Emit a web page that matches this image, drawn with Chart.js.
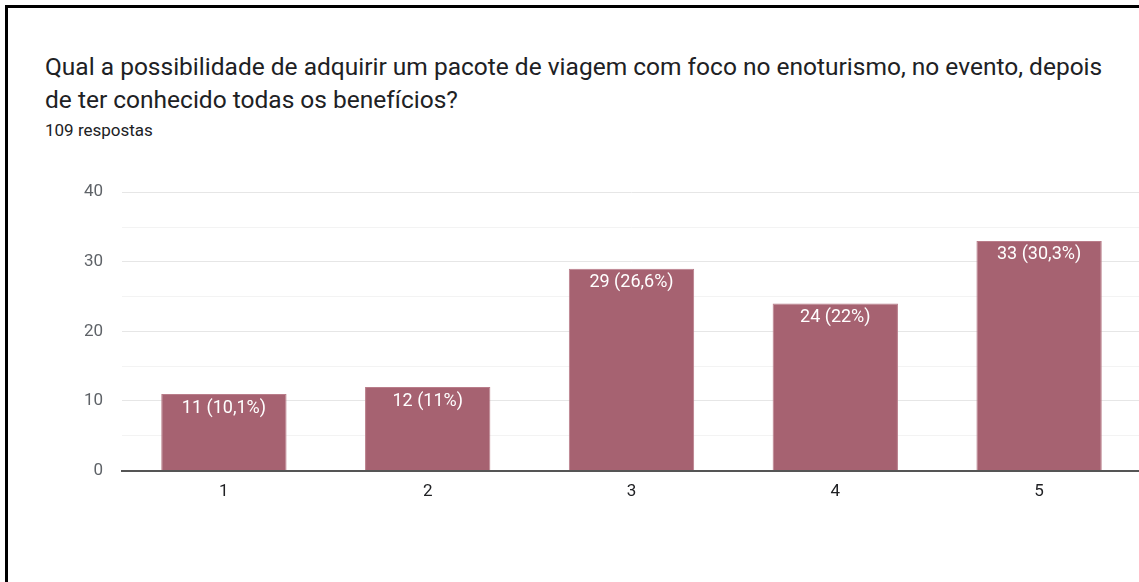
<!DOCTYPE html>
<html>
<head>
<meta charset="utf-8">
<script src="https://cdn.jsdelivr.net/npm/chart.js@4.4.0/dist/chart.umd.min.js"></script>
<style>
    html, body { margin: 0; padding: 0; background: #fff; overflow: hidden; }
    body { width: 1139px; height: 582px; position: relative; font-family: Roboto, Arial, sans-serif; }
    .frame-top { position: absolute; left: 5px; top: 5px; width: 1134px; height: 3px; background: #000; }
    .frame-left { position: absolute; left: 5px; top: 5px; width: 3px; height: 577px; background: #000; }
    .title { position: absolute; left: 45px; top: 50px; font-size: 24.5px; line-height: 33px; color: #202124; white-space: nowrap; }
    .sub { position: absolute; left: 45px; top: 120px; font-size: 17px; line-height: 20px; color: #202124; }
    .chart-box { position: absolute; left: 40px; top: 163px; width: 1101px; height: 350px; }
</style>
</head>
<body>
<div class="frame-top"></div>
<div class="frame-left"></div>
<div class="title">Qual a possibilidade de adquirir um pacote de viagem com foco no enoturismo, no evento, depois<br>de ter conhecido todas os benefícios?</div>
<div class="sub">109 respostas</div>
<div class="chart-box"><canvas id="chart"></canvas></div>
<script>
    // Chart data
    const categories = ['1', '2', '3', '4', '5'];
    const counts = [11, 12, 29, 24, 33];
    const percentLabels = ['10,1%', '11%', '26,6%', '22%', '30,3%'];
    const yTicks = [0, 10, 20, 30, 40];

    // White labels inside the top of each bar
    const barLabels = {
        id: 'barLabels',
        afterDatasetsDraw(chart) {
            const ctx = chart.ctx;
            const meta = chart.getDatasetMeta(0);
            ctx.save();
            ctx.fillStyle = '#ffffff';
            ctx.font = '18px Roboto, Arial, sans-serif';
            ctx.textAlign = 'center';
            ctx.textBaseline = 'middle';
            meta.data.forEach(function (bar, i) {
                ctx.fillText(counts[i] + ' (' + percentLabels[i] + ')', bar.x, bar.y + 14);
            });
            ctx.restore();
        }
    };

    const ctx = document.getElementById('chart').getContext('2d');
    new Chart(ctx, {
        type: 'bar',
        data: {
            labels: categories,
            datasets: [{
                data: counts,
                backgroundColor: '#a66271',
                borderColor: '#b97d8a',
                borderWidth: 1,
                barPercentage: 0.615,
                categoryPercentage: 1
            }]
        },
        options: {
            responsive: true,
            maintainAspectRatio: false,
            animation: false,
            layout: { padding: 0 },
            plugins: { legend: { display: false }, tooltip: { enabled: false } },
            scales: {
                x: {
                    grid: { display: false, drawTicks: false },
                    border: { display: true, color: '#555', width: 2 },
                    ticks: { color: '#202124', font: { size: 17, family: 'Roboto' }, padding: 11 }
                },
                y: {
                    min: 0,
                    max: 40,
                    afterFit: function (scale) { scale.width = 82; },
                    border: { display: false },
                    grid: {
                        drawTicks: false,
                        color: function (c) { return c.tick.value % 10 === 0 ? '#e6e6e6' : '#f3f3f3'; }
                    },
                    ticks: {
                        stepSize: 5,
                        padding: 19,
                        color: '#5f6368',
                        font: { size: 17, family: 'Roboto' },
                        callback: function (v) { return yTicks.includes(v) ? v : ''; }
                    }
                }
            }
        },
        plugins: [barLabels]
    });
</script>
</body>
</html>
